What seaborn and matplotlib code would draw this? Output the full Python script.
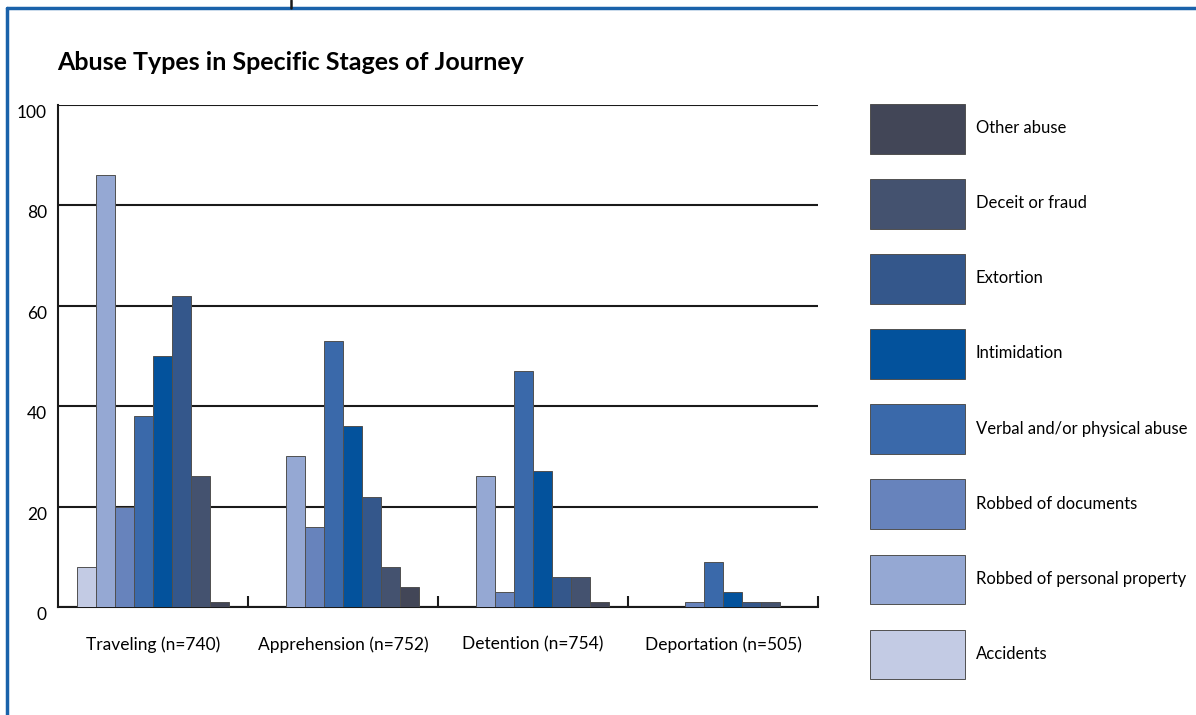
import numpy as np
import pandas as pd
import matplotlib.pyplot as plt
import seaborn as sns
from matplotlib.lines import Line2D

stages = ['Traveling (n=740)', 'Apprehension (n=752)', 'Detention (n=754)', 'Deportation (n=505)']
abuse_types = ['Accidents', 'Robbed of personal property', 'Robbed of documents',
               'Verbal and/or physical abuse', 'Intimidation', 'Extortion',
               'Deceit or fraud', 'Other abuse']
accidents = [8, 0, 0, 0]
personal_property = [86, 30, 26, 0]
documents = [20, 16, 3, 1]
verbal_physical = [38, 53, 47, 9]
intimidation = [50, 36, 27, 3]
extortion = [62, 22, 6, 1]
deceit = [26, 8, 6, 1]
other = [1, 4, 1, 0]
colors = ['#c3cbe4', '#95a8d3', '#6783bc', '#3a69aa', '#03529c', '#34578b', '#44526f', '#424657']
yticks = [0, 20, 40, 60, 80, 100]

series = [accidents, personal_property, documents, verbal_physical,
          intimidation, extortion, deceit, other]
df = pd.DataFrame({
    'stage': np.tile(stages, len(abuse_types)),
    'type': np.repeat(abuse_types, len(stages)),
    'value': np.concatenate(series),
})

sns.set_theme(style='white')
plt.rcParams['font.family'] = ['Lato', 'DejaVu Sans']
plt.rcParams['text.color'] = 'black'
plt.rcParams['xtick.color'] = 'black'
plt.rcParams['ytick.color'] = 'black'

fig = plt.figure(figsize=(11.96, 7.15), dpi=100)
ax = fig.add_axes([58 / 1196, 1 - 607 / 715, 760 / 1196, 502 / 715])

sns.barplot(data=df, x='stage', y='value', hue='type', order=stages, hue_order=abuse_types,
            palette=colors, width=0.8, edgecolor='#505050', linewidth=0.7,
            saturation=1, legend=True, ax=ax, zorder=3)

ax.set_ylim(0, 100)
ax.set_xlim(-0.5, 3.5)
ax.set_yticks(yticks)
ax.set_yticklabels([str(t) for t in yticks], fontsize=12.5, va='top')
ax.grid(axis='y', color='#1a1a1a', linewidth=1.5, zorder=0)
ax.set_axisbelow(True)
ax.set_xlabel(None)
ax.set_ylabel(None)
ax.spines[['right', 'top']].set_visible(False)
for s in ['left', 'bottom']:
    ax.spines[s].set_color('#1a1a1a')
    ax.spines[s].set_linewidth(1.5)
ax.set_xticks([0.5, 1.5, 2.5, 3.5], minor=True)
ax.tick_params(axis='x', which='major', bottom=True, length=0, labelsize=12.5, pad=21)
ax.tick_params(axis='x', which='minor', bottom=True, length=8, direction='in', width=1.5,
               color='#1a1a1a')
ax.tick_params(axis='y', left=False, length=0, pad=8)

# legend on the right, top to bottom reversed
handles, labels = ax.get_legend_handles_labels()
ax.get_legend().remove()
fig.legend(handles[::-1], labels[::-1], loc='upper left',
           bbox_to_anchor=(870 / 1196, 1 - 104 / 715), frameon=False,
           fontsize=12, handlelength=5.7, handleheight=4.2,
           labelspacing=1.53, handletextpad=0.65, borderpad=0, borderaxespad=0)

fig.text(57 / 1196, 1 - 62 / 715, 'Abuse Types in Specific Stages of Journey',
         fontsize=18, fontweight='bold', va='center', ha='left')

# blue frame
fig.add_artist(Line2D([7 / 1196, 7 / 1196], [0, 1 - 8 / 715], color='#1a62aa', lw=2.5))
fig.add_artist(Line2D([7 / 1196, 1], [1 - 8 / 715, 1 - 8 / 715], color='#1a62aa', lw=2.5))
fig.add_artist(Line2D([291 / 1196, 291 / 1196], [1 - 8 / 715, 1], color='#1a1a1a', lw=1.8))

fig.savefig('out.png', dpi=100, facecolor='white')
